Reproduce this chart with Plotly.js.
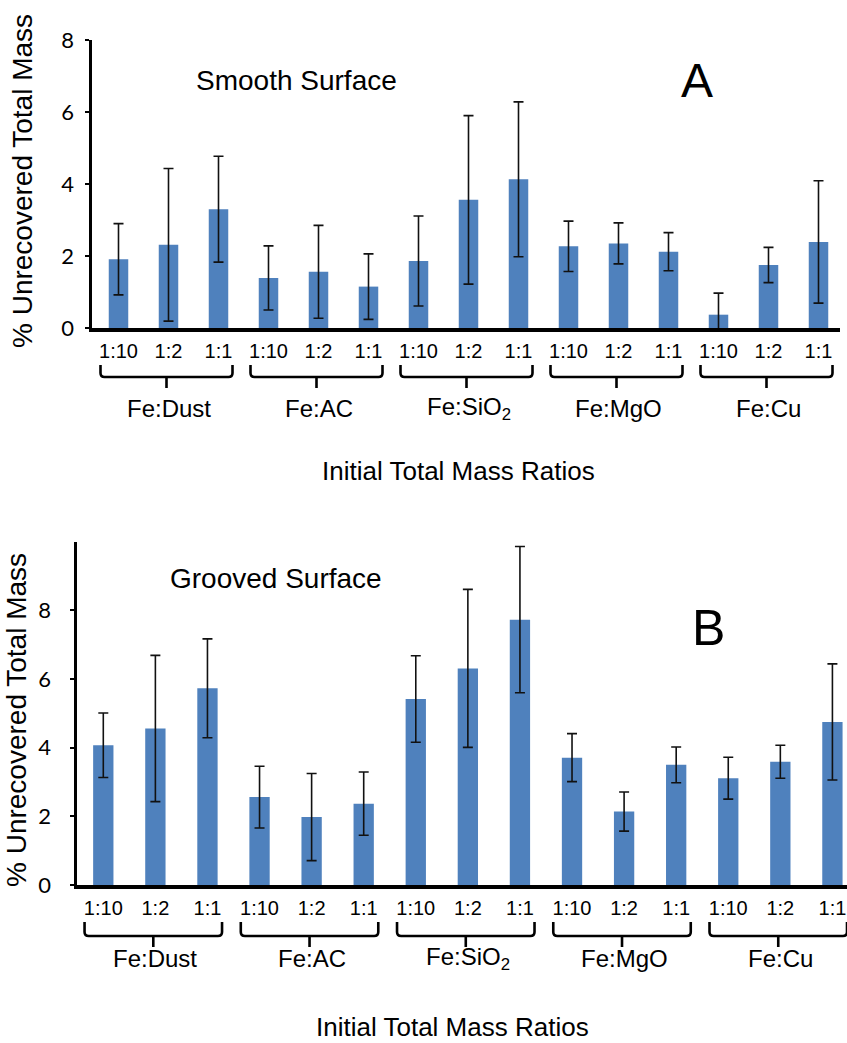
<!DOCTYPE html>
<html>
<head>
<meta charset="utf-8">
<script src="https://cdn.plot.ly/plotly-3.0.1.min.js"></script>
<style>
  html, body { margin: 0; padding: 0; background: #ffffff; }
  #chart { width: 847px; height: 1043px; }
</style>
</head>
<body>
<div id="chart"></div>
<script>
// ---- Data ----
const groups = ['Fe:Dust', 'Fe:AC', 'Fe:SiO<sub>2</sub>', 'Fe:MgO', 'Fe:Cu'];
const ratios = ['1:10', '1:2', '1:1'];

// Panel A: smooth surface
const smoothValues = [1.91, 2.31, 3.30, 1.39, 1.56, 1.15, 1.86, 3.56, 4.13, 2.27, 2.35, 2.12, 0.37, 1.75, 2.39];
const smoothErrors = [0.99, 2.12, 1.47, 0.89, 1.29, 0.91, 1.25, 2.34, 2.15, 0.70, 0.57, 0.53, 0.60, 0.49, 1.70];

// Panel B: grooved surface
const groovedValues = [4.07, 4.56, 5.73, 2.56, 1.98, 2.37, 5.42, 6.31, 7.73, 3.71, 2.14, 3.50, 3.11, 3.59, 4.75];
const groovedErrors = [0.94, 2.13, 1.44, 0.90, 1.27, 0.92, 1.26, 2.30, 2.13, 0.70, 0.57, 0.52, 0.61, 0.48, 1.69];

const yTicksA = [0, 2, 4, 6, 8];
const yTicksB = [0, 2, 4, 6, 8];

const yTitle = '% Unrecovered Total Mass';
const xTitle = 'Initial Total Mass Ratios';

// ---- Build ----
const W = 847, H = 1043;
const px = v => v / W;          // pixel x -> paper
const py = v => 1 - v / H;      // pixel y -> paper

const tickText = [];
groups.forEach(() => ratios.forEach(r => tickText.push(r)));
const xPos = smoothValues.map((_, i) => i);

const FONT = '"Liberation Sans", Arial, sans-serif';
const NUMFONT = 'Lato, "Open Sans", sans-serif';
const BAR = '#4f81bd';

function barTrace(vals, errs, xa, ya) {
  return {
    type: 'bar',
    x: xPos,
    y: vals,
    xaxis: xa,
    yaxis: ya,
    marker: { color: BAR, line: { width: 0 } },
    error_y: { type: 'data', array: errs, visible: true, color: '#111111', thickness: 1.6, width: 5 },
    hoverinfo: 'skip',
    showlegend: false
  };
}

const data = [
  barTrace(smoothValues, smoothErrors, 'x', 'y'),
  barTrace(groovedValues, groovedErrors, 'x2', 'y2')
];

const xaxisBase = {
  tickmode: 'array',
  tickvals: xPos,
  ticktext: tickText,
  ticks: '',
  showgrid: false,
  zeroline: false,
  showline: true,
  linecolor: '#000000',
  linewidth: 3.5,
  tickfont: { family: FONT, size: 20, color: '#000000' },
  ticklabelstandoff: 2,
  ticklabeloverflow: 'allow',
  fixedrange: true
};
const yaxisBase = {
  tickmode: 'array',
  ticks: 'outside',
  ticklen: 4,
  tickwidth: 2,
  tickcolor: '#000000',
  showgrid: false,
  zeroline: false,
  showline: true,
  linecolor: '#000000',
  linewidth: 3.5,
  tickfont: { family: NUMFONT, size: 22, color: '#000000' },
  fixedrange: true
};

const layout = {
  width: W,
  height: H,
  margin: { l: 0, r: 0, t: 0, b: 0 },
  paper_bgcolor: '#ffffff',
  plot_bgcolor: '#ffffff',
  bargap: 0.61,
  showlegend: false,
  xaxis: Object.assign({}, xaxisBase, {
    domain: [px(92), px(840)], range: [-0.53, 14.43], anchor: 'y'
  }),
  yaxis: Object.assign({}, yaxisBase, {
    domain: [py(328), py(40)], range: [0, 8], tickvals: yTicksA, anchor: 'x',
    ticklabelstandoff: 6
  }),
  xaxis2: Object.assign({}, xaxisBase, {
    domain: [px(77), 1], range: [-0.505, 14.28], anchor: 'y2'
  }),
  yaxis2: Object.assign({}, yaxisBase, {
    domain: [py(885), py(541.7)], range: [0, 10], tickvals: yTicksB, anchor: 'x2',
    ticklabelstandoff: 14
  }),
  shapes: [],
  annotations: []
};

// Brackets and group labels
function addGroupMarks(xref, yTop, yMid, yTick, yLabel) {
  groups.forEach((g, gi) => {
    const k0 = gi * ratios.length;
    const L = k0 - 0.36, R = k0 + ratios.length - 1 + 0.28;
    const C = (L + R) / 2;
    const d = 0.08;
    const r = 4;
    const path =
      'M ' + L + ',' + py(yTop) +
      ' L ' + L + ',' + py(yMid - r) +
      ' Q ' + L + ',' + py(yMid) + ' ' + (L + d) + ',' + py(yMid) +
      ' L ' + (R - d) + ',' + py(yMid) +
      ' Q ' + R + ',' + py(yMid) + ' ' + R + ',' + py(yMid - r) +
      ' L ' + R + ',' + py(yTop) +
      ' M ' + C + ',' + py(yMid) + ' L ' + C + ',' + py(yTick);
    layout.shapes.push({
      type: 'path', xref: xref, yref: 'paper', path: path,
      line: { color: '#000000', width: 2.6 }
    });
    layout.annotations.push({
      xref: xref, yref: 'paper', x: k0 + (ratios.length - 1) / 2, y: py(yLabel),
      text: g, showarrow: false, xanchor: 'center', yanchor: 'middle',
      font: { family: FONT, size: 24, color: '#000000' }
    });
  });
}
addGroupMarks('x', 365, 377, 388, 408);
addGroupMarks('x2', 922, 936, 947, 958);

function addText(text, x, y, size, angle) {
  layout.annotations.push({
    xref: 'paper', yref: 'paper', x: px(x), y: py(y), text: text,
    showarrow: false, xanchor: 'center', yanchor: 'middle',
    textangle: angle || 0,
    font: { family: FONT, size: size, color: '#000000' }
  });
}
addText('Smooth Surface', 296, 80, 28);
addText('A', 697, 80, 48);
addText(xTitle, 458, 471, 26);
addText(yTitle, 23, 181, 28, -90);

addText('Grooved Surface', 276, 578, 28);
addText('B', 708, 628, 50);
addText(xTitle, 452, 1027, 26);
addText(yTitle, 16, 720, 28, -90);

Plotly.newPlot('chart', data, layout, { staticPlot: true, displayModeBar: false });
</script>
</body>
</html>
